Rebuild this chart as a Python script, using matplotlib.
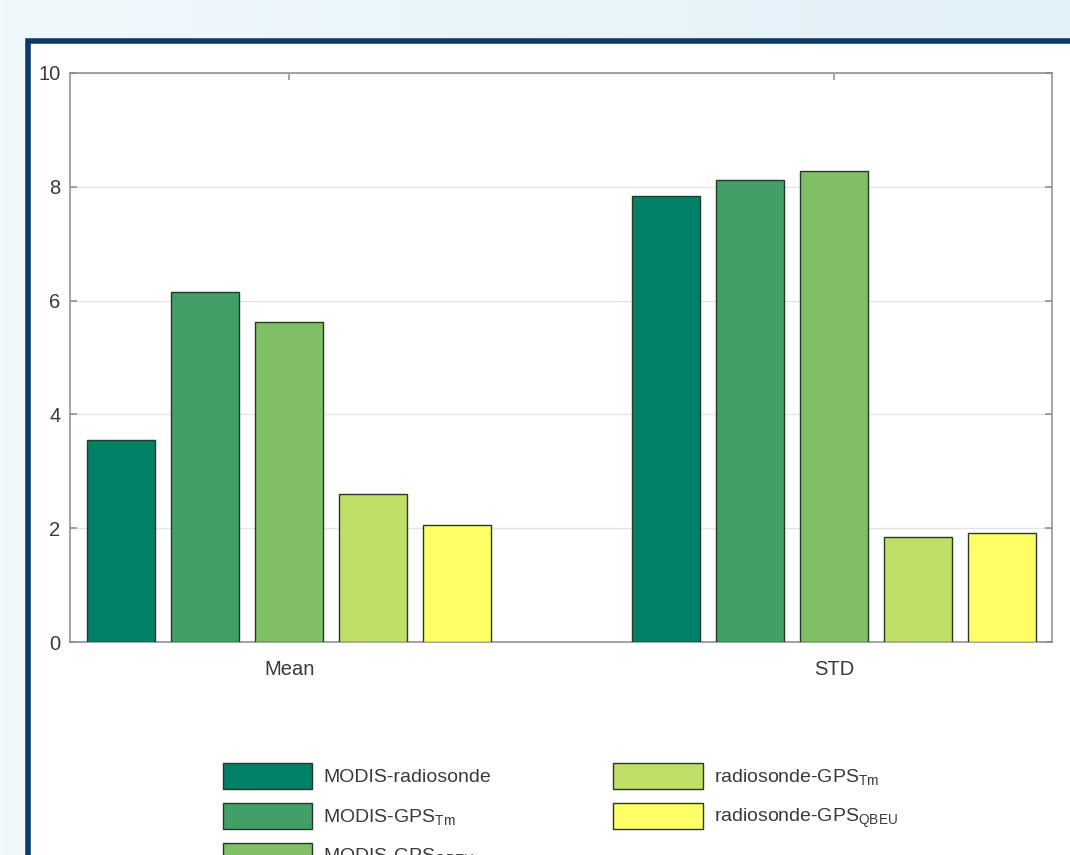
import numpy as np
import matplotlib
matplotlib.use("Agg")
from matplotlib import pyplot as plt
from matplotlib.patches import Rectangle, Patch

plt.rcParams["font.family"] = ["Liberation Sans", "DejaVu Sans"]
plt.rcParams["mathtext.fontset"] = "custom"
plt.rcParams["mathtext.rm"] = "Liberation Sans"
plt.rcParams["mathtext.it"] = "Liberation Sans:italic"

#%% data
groups = ["Mean", "STD"]
series = ["MODIS-radiosonde",
          "MODIS-GPS$_{\\mathrm{Tm}}$",
          "MODIS-GPS$_{\\mathrm{QBEU}}$",
          "radiosonde-GPS$_{\\mathrm{Tm}}$",
          "radiosonde-GPS$_{\\mathrm{QBEU}}$"]
mean_vals = [3.55, 6.15, 5.62, 2.60, 2.06]
std_vals = [7.84, 8.12, 8.28, 1.85, 1.92]
# MATLAB "summer" colormap, 5 levels
colors = ["#008066", "#40a066", "#80bf66", "#bfdf66", "#ffff66"]

W, H = 1070, 855
fig = plt.figure(figsize=(W / 100, H / 100), dpi=100)

# soft blue page background
bg = fig.add_axes([0, 0, 1, 1], zorder=-10)
grad = np.linspace(0, 1, 256)[None, :, None]
left = np.array([241, 249, 252]) / 255
right = np.array([224, 241, 248]) / 255
bg.imshow(left + (right - left) * grad, aspect="auto", extent=[0, 1, 0, 1])
bg.set_axis_off()

# white card with a dark blue border running off the page
card = Rectangle((28 / W, 1 - 41 / H), 1.2, -1.2, transform=fig.transFigure,
                 facecolor="white", edgecolor="#0b3a6a", linewidth=4, zorder=-5)
fig.patches.append(card)

ax = fig.add_axes([70 / W, (H - 642) / H, 982 / W, 569 / H])
x = np.arange(1, len(groups) + 1)
vals = np.array([mean_vals, std_vals])
step = 0.154
width = 0.124
handles = []
for i, (name, c) in enumerate(zip(series, colors)):
    ax.bar(x + (i - 2) * step, vals[:, i], width, color=c,
           edgecolor="#263826", linewidth=1.0, zorder=3)
    handles.append(Patch(facecolor=c, edgecolor="#263826", linewidth=1.0, label=name))

ax.set_xlim(0.598, 2.4)
ax.set_ylim(0, 10)
ax.set_xticks(x)
ax.set_xticklabels(groups)
ax.set_yticks(np.arange(0, 11, 2))
ax.set_axisbelow(True)
ax.grid(axis="y", color="#e3e3e3", linewidth=0.9)
for s in ax.spines.values():
    s.set_color("#8a8a8a")
    s.set_linewidth(1.1)
ax.tick_params(axis="both", direction="in", length=5, width=1.1, color="#8a8a8a",
               labelsize=14.5, labelcolor="#3a3a3a", top=True, right=True)
ax.tick_params(axis="x", pad=13)
ax.tick_params(axis="y", pad=7)

fig.legend(handles=handles, loc="upper left", bbox_to_anchor=(223 / W, 1 - 763 / H),
           ncol=2, frameon=False, fontsize=14, labelcolor="#3a3a3a",
           handlelength=4.6, handleheight=1.68, handletextpad=0.55,
           labelspacing=0.72, columnspacing=6.3, borderpad=0, borderaxespad=0)

fig.savefig("out.png", dpi=100)
